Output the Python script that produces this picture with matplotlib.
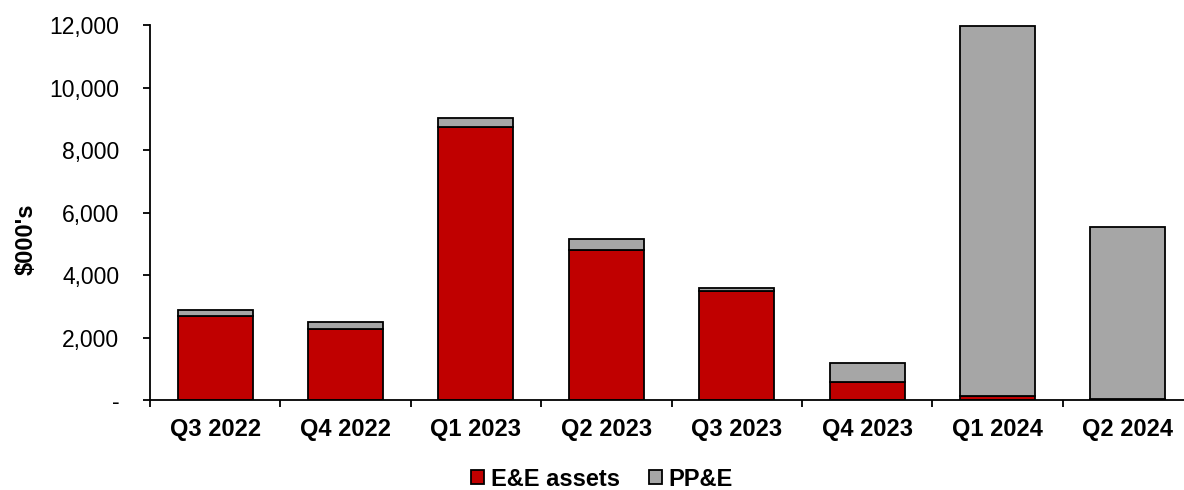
import numpy as np
import matplotlib.pyplot as plt
from matplotlib.ticker import FuncFormatter, FixedLocator

plt.rcParams['font.family'] = ['Liberation Sans', 'DejaVu Sans']

quarters = ["Q3 2022", "Q4 2022", "Q1 2023", "Q2 2023",
            "Q3 2023", "Q4 2023", "Q1 2024", "Q2 2024"]
ee_assets = [2690, 2280, 8750, 4790, 3500, 570, 120, 40]
ppe = [200, 220, 270, 350, 100, 620, 11850, 5500]

x = np.arange(len(quarters))

fig = plt.figure(figsize=(11.84, 4.9), dpi=100)
# axes run a bit past the right edge, like the source chart
ax = fig.add_axes([150 / 1184, 90 / 490, 1043 / 1184, 375 / 490])

ax.bar(x, ee_assets, width=0.575, color="#c00000", edgecolor="black",
       linewidth=1.3, label="E&E assets")
ax.bar(x, ppe, width=0.575, bottom=ee_assets, color="#a6a6a6",
       edgecolor="black", linewidth=1.3, label="PP&E")

ax.set_xlim(-0.5, len(quarters) - 0.5)
ax.set_ylim(0, 12000)
ax.set_yticks(np.arange(0, 12001, 2000))
ax.yaxis.set_major_formatter(FuncFormatter(lambda v, p: "-" if v == 0 else f"{v:,.0f}"))
ax.tick_params(axis='y', labelsize=16.5, length=5, width=1.3, direction='out', pad=17)

ax.set_xticks(x)
ax.set_xticklabels(quarters, fontweight='bold', fontsize=17)
ax.tick_params(axis='x', which='major', length=0, pad=13)
ax.xaxis.set_minor_locator(FixedLocator(np.arange(-0.5, len(quarters), 1)))
ax.tick_params(axis='x', which='minor', length=5, width=1.3, direction='out')

ax.set_ylabel("$000's", fontweight='bold', fontsize=17)
ax.yaxis.set_label_coords(-112 / 1043, 0.43)

for s in ['top', 'right']:
    ax.spines[s].set_visible(False)
for s in ['left', 'bottom']:
    ax.spines[s].set_linewidth(1.3)

fig.legend(*ax.get_legend_handles_labels(), loc='center', bbox_to_anchor=(602 / 1184, 1 - 479 / 490),
           ncol=2, frameon=False, prop={'weight': 'bold', 'size': 17}, borderpad=0,
           handlelength=0.55, handleheight=0.55, handletextpad=0.3, columnspacing=1.2)

plt.savefig("out.png", dpi=100)
